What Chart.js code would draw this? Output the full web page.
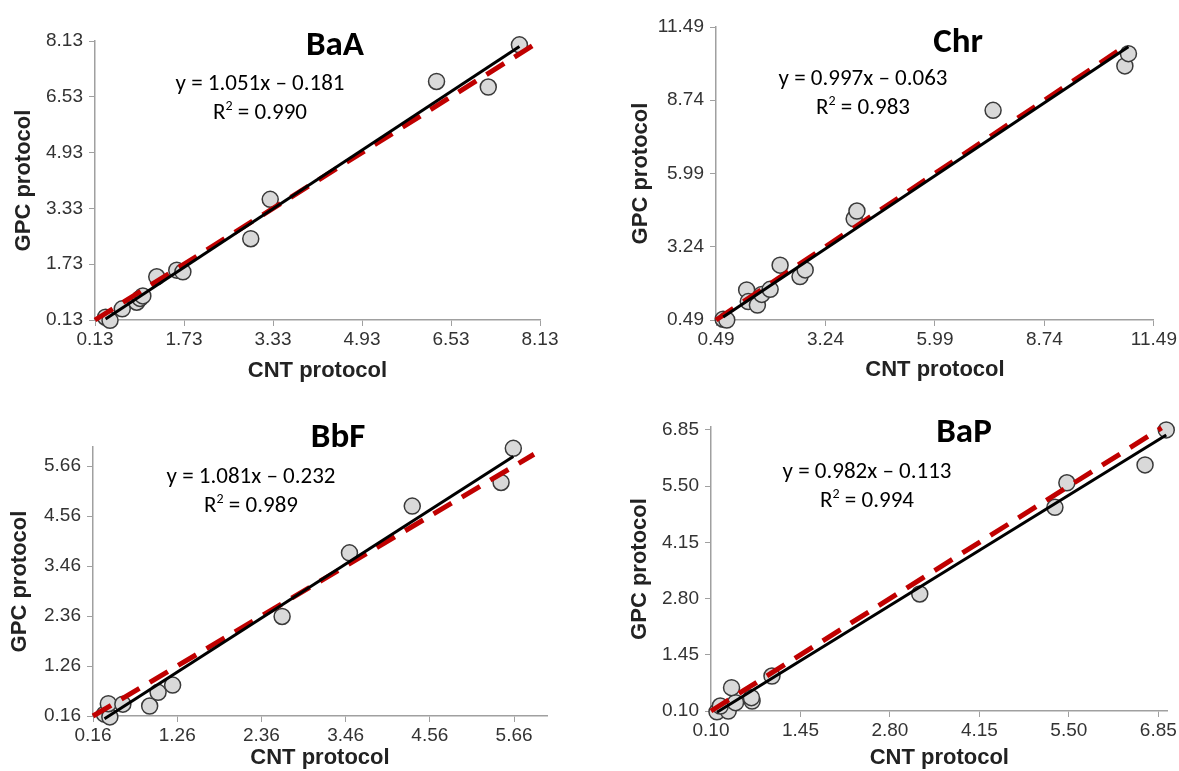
<!DOCTYPE html>
<html lang="en">
<head>
    <meta charset="UTF-8">
    <title>CNT vs GPC protocol</title>
    <script src="https://cdn.jsdelivr.net/npm/chart.js"></script>
    <style>
        body { margin: 0; background: #fff; width: 1179px; height: 771px; position: relative; overflow: hidden; }
        .panel { position: absolute; }
        .lbl { position: absolute; transform: translate(-50%, -50%); white-space: nowrap; color: #000; }
        .name { font-family: Carlito, Lato, sans-serif; font-weight: bold; font-size: 35px; }
        .eq { font-family: Carlito, Lato, sans-serif; font-size: 23px; }
        .eq sup { font-size: 14px; }
    </style>
</head>
<body>
<script>
    // BaA
    const baaCnt = [0.32, 0.40, 0.62, 0.88, 0.94, 0.99, 1.24, 1.60, 1.71, 2.93, 3.28, 6.27, 7.20, 7.76];
    const baaGpc = [0.21, 0.12, 0.45, 0.64, 0.75, 0.82, 1.37, 1.56, 1.51, 2.46, 3.59, 6.97, 6.81, 8.02];
    const baaFitX = [0.32, 7.76], baaFitY = [0.16, 7.97];
    const baaRef = [0.13, 8.0];
    const baaTicks = [0.13, 1.73, 3.33, 4.93, 6.53, 8.13];

    // Chr
    const chrCnt = [0.67, 0.76, 1.26, 1.30, 1.53, 1.64, 1.85, 2.10, 2.60, 2.73, 3.96, 4.03, 7.45, 10.76, 10.85];
    const chrGpc = [0.52, 0.49, 1.62, 1.18, 1.05, 1.45, 1.64, 2.55, 2.12, 2.37, 4.29, 4.58, 8.36, 10.03, 10.49];
    const chrFitX = [0.67, 10.85], chrFitY = [0.60, 10.75];
    const chrRef = [0.49, 10.6];
    const chrTicks = [0.49, 3.24, 5.99, 8.74, 11.49];

    // BbF
    const bbfCnt = [0.31, 0.38, 0.36, 0.55, 0.90, 1.01, 1.20, 2.63, 3.51, 4.33, 5.49, 5.65];
    const bbfGpc = [0.20, 0.14, 0.43, 0.42, 0.38, 0.68, 0.84, 2.35, 3.75, 4.78, 5.30, 6.05];
    const bbfFitX = [0.31, 5.65], bbfFitY = [0.10, 5.87];
    const bbfRef = [0.16, 5.92];
    const bbfTicks = [0.16, 1.26, 2.36, 3.46, 4.56, 5.66];

    // BaP
    const bapCnt = [0.19, 0.36, 0.24, 0.47, 0.72, 0.71, 0.41, 1.02, 3.25, 5.29, 5.47, 6.65, 6.97];
    const bapGpc = [0.08, 0.10, 0.22, 0.30, 0.34, 0.42, 0.66, 0.94, 2.91, 4.99, 5.58, 6.01, 6.85];
    const bapFitX = [0.19, 6.97], bapFitY = [0.07, 6.73];
    const bapRef = [0.10, 6.90];
    const bapTicks = [0.10, 1.45, 2.80, 4.15, 5.50, 6.85];

    const axisGray = '#a0a0a0';
    const tickFont = { family: 'Liberation Sans, Arial, sans-serif', size: 19 };
    const titleFont = { family: 'Liberation Sans, Arial, sans-serif', size: 22, weight: 'bold' };

    function pts(xs, ys) { return xs.map((x, i) => ({ x: x, y: ys[i] })); }

    function axis(ticks, min, max, fixed, horizontal, titlePad) {
        return {
            type: 'linear', min: min, max: max,
            afterBuildTicks: s => { s.ticks = ticks.map(v => ({ value: v })); },
            afterFit: s => { if (horizontal) s.height = fixed; else s.width = fixed; },
            ticks: { font: tickFont, color: '#333', padding: horizontal ? 2 : 6, callback: v => v.toFixed(2) },
            grid: { drawOnChartArea: false, drawTicks: true, tickLength: 6, color: axisGray },
            border: { display: true, color: axisGray, width: 1.5 },
            title: {
                display: true, color: '#222', font: titleFont,
                text: horizontal ? 'CNT protocol' : 'GPC protocol',
                padding: horizontal ? { top: 0, bottom: titlePad } : { top: titlePad, bottom: 0 }
            }
        };
    }

    function panel(p) {
        const div = document.createElement('div');
        div.className = 'panel';
        Object.assign(div.style, { left: p.left + 'px', top: p.top + 'px', width: p.w + 'px', height: p.h + 'px' });
        const cv = document.createElement('canvas');
        div.appendChild(cv);
        document.body.appendChild(div);

        new Chart(cv, {
            type: 'scatter',
            data: {
                datasets: [
                    {
                        data: pts(p.cnt, p.gpc), order: 3, clip: false,
                        pointRadius: 8, pointBackgroundColor: '#d9d9d9',
                        pointBorderColor: '#3a3a3a', pointBorderWidth: 1.5
                    },
                    {
                        type: 'line', data: pts(p.ref, p.ref), order: 2, clip: false,
                        borderColor: '#c00000', borderWidth: 5, borderDash: [21, 12], pointRadius: 0
                    },
                    {
                        type: 'line', data: pts(p.fitX, p.fitY), order: 1, clip: false,
                        borderColor: '#000', borderWidth: 3, pointRadius: 0
                    }
                ]
            },
            options: {
                responsive: true, maintainAspectRatio: false, animation: false,
                layout: { padding: { left: 0, top: p.pt, right: p.pr, bottom: 0 } },
                plugins: { legend: { display: false }, tooltip: { enabled: false } },
                scales: {
                    x: axis(p.ticks, p.ticks[0], p.xMax, p.xh, true, p.xtp),
                    y: axis(p.ticks, p.ticks[0], p.yMax, p.yw, false, p.ytp)
                }
            }
        });

        const add = (cls, html, x, y) => {
            const d = document.createElement('div');
            d.className = 'lbl ' + cls;
            d.innerHTML = html;
            d.style.left = x + 'px';
            d.style.top = y + 'px';
            document.body.appendChild(d);
        };
        add('name', p.name, p.nameX, p.nameY);
        add('eq', p.eq, p.eqX, p.eqY);
        add('eq', 'R<sup>2</sup> = ' + p.r2, p.eqX, p.eqY + 29);
    }

    panel({ name: 'BaA', left: 0, top: 0, w: 580, h: 385, pt: 41, pr: 40, xh: 65, yw: 95, xtp: 1, ytp: 11,
        cnt: baaCnt, gpc: baaGpc, fitX: baaFitX, fitY: baaFitY, ref: baaRef, ticks: baaTicks, xMax: 8.13, yMax: 8.13,
        nameX: 335, nameY: 43, eq: 'y = 1.051x – 0.181', r2: '0.990', eqX: 260, eqY: 82 });

    panel({ name: 'Chr', left: 590, top: 0, w: 589, h: 385, pt: 27, pr: 25, xh: 65, yw: 126, xtp: 2, ytp: 38,
        cnt: chrCnt, gpc: chrGpc, fitX: chrFitX, fitY: chrFitY, ref: chrRef, ticks: chrTicks, xMax: 11.49, yMax: 11.49,
        nameX: 958, nameY: 40, eq: 'y = 0.997x – 0.063', r2: '0.983', eqX: 863, eqY: 77 });

    panel({ name: 'BbF', left: 0, top: 385, w: 580, h: 386, pt: 62, pr: 33, xh: 55, yw: 93, xtp: 0, ytp: 7,
        cnt: bbfCnt, gpc: bbfGpc, fitX: bbfFitX, fitY: bbfFitY, ref: bbfRef, ticks: bbfTicks, xMax: 6.09, yMax: 6.08,
        nameX: 338, nameY: 435, eq: 'y = 1.081x – 0.232', r2: '0.989', eqX: 251, eqY: 475 });

    panel({ name: 'BaP', left: 590, top: 385, w: 589, h: 386, pt: 42, pr: 10, xh: 60, yw: 121, xtp: 0, ytp: 37,
        cnt: bapCnt, gpc: bapGpc, fitX: bapFitX, fitY: bapFitY, ref: bapRef, ticks: bapTicks, xMax: 6.99, yMax: 6.92,
        nameX: 964, nameY: 430, eq: 'y = 0.982x – 0.113', r2: '0.994', eqX: 867, eqY: 470 });
</script>
</body>
</html>
